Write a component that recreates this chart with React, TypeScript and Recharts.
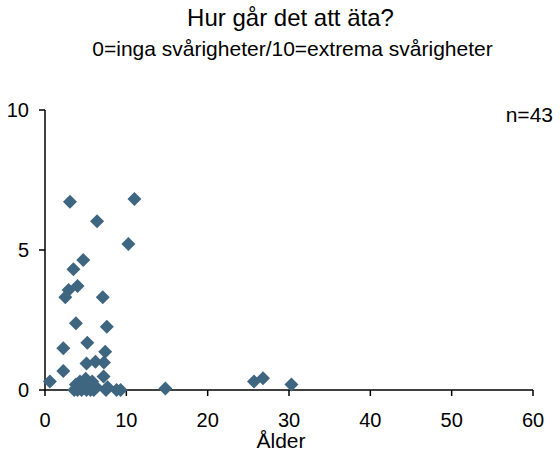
import React from 'react';
import { ScatterChart, Scatter, XAxis, YAxis } from 'recharts';

const ages: number[] = [
  3.07, 11.0, 6.4, 10.25, 4.7, 3.5, 4.0, 2.9, 2.5, 7.1, 3.8, 7.6, 2.25, 5.2, 7.4,
  5.1, 6.2, 7.25, 2.25, 0.6, 7.2, 14.8, 25.7, 26.8, 30.3,
  3.6, 3.8, 4.0, 4.3, 4.5, 4.7, 5.0, 5.1, 5.3, 5.6, 5.8, 6.0, 6.3, 7.5, 7.7, 8.8, 9.3, 4.2,
];
const scores: number[] = [
  6.72, 6.82, 6.03, 5.21, 4.64, 4.31, 3.71, 3.57, 3.31, 3.31, 2.38, 2.26, 1.49, 1.69, 1.37,
  0.95, 1.01, 0.98, 0.68, 0.3, 0.48, 0.05, 0.3, 0.42, 0.2,
  0.0, 0.2, 0.0, 0.3, 0.0, 0.15, 0.4, 0.0, 0.2, 0.0, 0.3, 0.0, 0.1, 0.0, 0.1, 0.0, 0.0, 0.1,
];
const xTicks: number[] = [0, 10, 20, 30, 40, 50, 60];
const yTicks: number[] = [0, 5, 10];
const titleText = 'Hur går det att äta?';
const subtitleText = '0=inga svårigheter/10=extrema svårigheter';
const nText = 'n=43';
const xLabel = 'Ålder';

const points = ages.map((a, i) => ({ x: a, y: scores[i] }));

const FONT = '"Liberation Sans", Arial, sans-serif';
const COLOR = '#3f6680';

const Diamond = (props: any) => {
  const { cx, cy } = props;
  const r = 7;
  return (
    <polygon
      points={`${cx},${cy - r} ${cx + r},${cy} ${cx},${cy + r} ${cx - r},${cy}`}
      fill={COLOR}
    />
  );
};

export default function App() {
  return (
    <div style={{ position: 'absolute', left: 0, top: 0, width: 560, height: 454, fontFamily: FONT, background: '#fff' }}>
      <ScatterChart
        width={560}
        height={454}
        margin={{ top: 110, right: 27, bottom: 24, left: 5 }}
      >
        <XAxis
          type="number"
          dataKey="x"
          domain={[0, 60]}
          ticks={xTicks}
          interval={0}
          tickSize={6}
          tickMargin={17}
          height={40}
          axisLine={{ stroke: '#000', strokeWidth: 1.5 }}
          tickLine={{ stroke: '#000', strokeWidth: 1.5 }}
          tick={{ fill: '#000', fontSize: 20, fontFamily: FONT }}
        />
        <YAxis
          type="number"
          dataKey="y"
          domain={[0, 10]}
          ticks={yTicks}
          interval={0}
          tickSize={6}
          tickMargin={10}
          width={40}
          axisLine={{ stroke: '#000', strokeWidth: 1.5 }}
          tickLine={{ stroke: '#000', strokeWidth: 1.5 }}
          tick={{ fill: '#000', fontSize: 20, fontFamily: FONT }}
        />
        <Scatter data={points} fill={COLOR} shape={Diamond} isAnimationActive={false} />
      </ScatterChart>
      <svg width={560} height={454} style={{ position: 'absolute', left: 0, top: 0, pointerEvents: 'none' }}>
        <text x={290.5} y={26} textAnchor="middle" fontSize={24} fontFamily={FONT} fill="#000">{titleText}</text>
        <text x={292.5} y={56} textAnchor="middle" fontSize={21} fontFamily={FONT} fill="#000">{subtitleText}</text>
        <text x={553} y={122} textAnchor="end" fontSize={21} fontFamily={FONT} fill="#000">{nText}</text>
        <text x={281} y={448} textAnchor="middle" fontSize={21} fontFamily={FONT} fill="#000">{xLabel}</text>
      </svg>
    </div>
  );
}
